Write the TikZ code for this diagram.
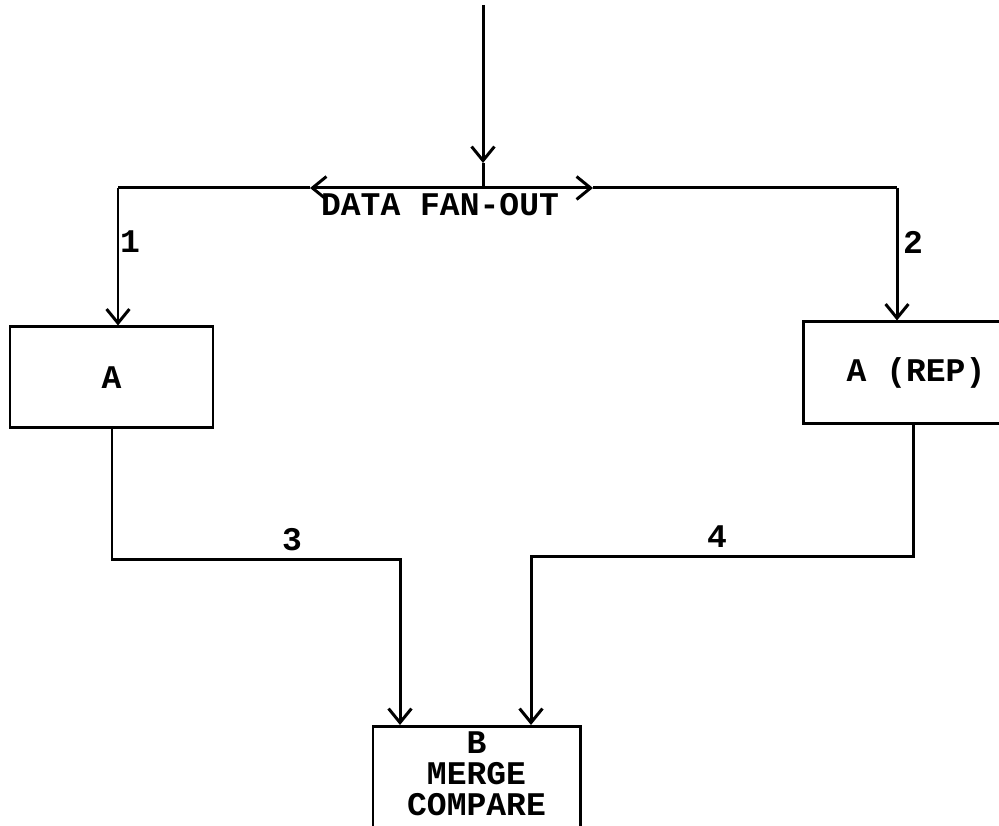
\documentclass[tikz,border=0pt]{standalone}
\usepackage{fontspec}
\setmonofont{Liberation Mono}
\usepackage{tikz}
\usetikzlibrary{arrows.meta,positioning,calc}
\newcommand{\flowfont}{\fontsize{9.4}{8.8}\selectfont\ttfamily\bfseries}
\tikzset{
  mainbox/.style={draw, line width=0.85pt, align=center,
                  font=\flowfont, inner sep=2pt},
  wire/.style   ={line width=0.85pt},
  arr/.style    ={-{Straight Barb[length=4pt,width=6.5pt]}, line width=0.85pt},
  lbl/.style    ={font=\flowfont, inner sep=0pt},
}

\begin{document}
\begin{tikzpicture}
  \useasboundingbox (0,0) rectangle (9.99,8.26);
  % boxes
  \node[mainbox, minimum width=2.03cm, minimum height=1.01cm] (boxA) at (1.115,4.485) {A};
  \node[mainbox, minimum width=2.26cm, minimum height=1.02cm] (boxRep) at (9.16,4.53) {A (REP)};
  \node[mainbox, anchor=north, minimum width=2.07cm, inner ysep=1.4pt, text depth=0.3cm] (boxB) at (4.765,1.01) {B\\MERGE\\COMPARE};
  % fan-out points
  \coordinate (src) at (4.83,8.21);
  \coordinate (srcTip) at (4.83,6.63);
  \coordinate (fan) at (4.83,6.38);
  \coordinate (fanL) at (3.10,6.38);
  \coordinate (fanR) at (5.93,6.38);
  \coordinate (cornL) at (1.18,6.38);
  \coordinate (cornR) at (8.97,6.38);
  \coordinate (c3) at (1.12,2.66);
  \coordinate (d3) at (4.00,2.66);
  \coordinate (c4) at (9.13,2.69);
  \coordinate (d4) at (5.31,2.69);
  % connectors
  \draw[arr] (src) -- (srcTip);
  \draw[wire] (srcTip) -- (fan);
  \draw[arr] (fan) -- (fanL);
  \draw[arr] (fan) -- (fanR);
  \draw[wire] (fanL) -- (cornL);
  \draw[wire] (fanR) -- (cornR);
  \draw[arr] (cornL) -- (cornL |- boxA.north);
  \draw[arr] (cornR) -- (cornR |- boxRep.north);
  \draw[arr] (c3 |- boxA.south) -- (c3) -- (d3) -- (d3 |- boxB.north);
  \draw[arr] (c4 |- boxRep.south) -- (c4) -- (d4) -- (d4 |- boxB.north);
  % labels
  \node[lbl] (fanText) at (4.40,6.21) {DATA FAN-OUT};
  \node[lbl] (n1) at (1.30,5.84) {1};
  \node[lbl] (n2) at (9.13,5.84) {2};
  \node[lbl] (n3) at (2.92,2.86) {3};
  \node[lbl] (n4) at (7.17,2.89) {4};
\end{tikzpicture}
\end{document}
